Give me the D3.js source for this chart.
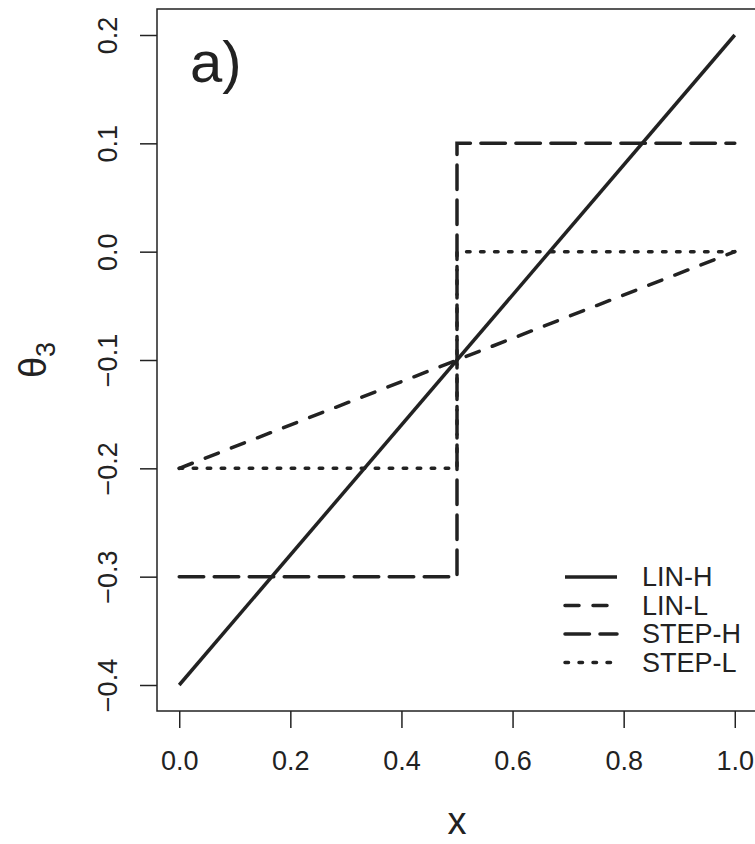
<!DOCTYPE html>
<html>
<head>
<meta charset="utf-8">
<script src="https://cdn.jsdelivr.net/npm/d3@7"></script>
<style>
  body { margin: 0; background: #fff; }
  text { font-family: "Liberation Sans", Arial, sans-serif; fill: #222; }
</style>
</head>
<body>
<svg id="chart" width="755" height="844"></svg>
<script>
// data
var linX = [0, 1];
var linH = [-0.4, 0.2];
var linL = [-0.2, 0];
var stepX = [0, 0.5, 0.5, 1];
var stepH = [-0.3, -0.3, 0.1, 0.1];
var stepL = [-0.2, -0.2, 0, 0];
var xTicks = [0, 0.2, 0.4, 0.6, 0.8, 1.0];
var yTicks = [-0.4, -0.3, -0.2, -0.1, 0.0, 0.1, 0.2];
var seriesNames = ["LIN-H", "LIN-L", "STEP-H", "STEP-L"];

var svg = d3.select("#chart"),
    margin = { top: 9, right: -2, bottom: 133, left: 157 },
    width = +svg.attr("width") - margin.left - margin.right,
    height = +svg.attr("height") - margin.top - margin.bottom,
    g = svg.append("g").attr("transform", "translate(" + margin.left + "," + margin.top + ")");

var lw = 3.5;
var dashes = ["none", "14,14", "24.5,10.5", "3.5,10.5"];
var ink = "#222";

// R style: 4% padding on each side
var x = d3.scaleLinear()
    .domain([-0.04, 1.04])
    .range([0, width]);

var y = d3.scaleLinear()
    .domain([-0.424, 0.224])
    .range([height, 0]);

var xAxis = g.append("g")
    .attr("transform", "translate(0," + height + ")")
    .call(d3.axisBottom(x).tickValues(xTicks).tickSize(17).tickPadding(23).tickFormat(d3.format(".1f")));
xAxis.select(".domain").remove();
xAxis.selectAll("line").attr("stroke", ink).attr("stroke-width", 1.5);
xAxis.selectAll("text").attr("font-size", 27).attr("fill", ink);

var yAxis = g.append("g")
    .call(d3.axisLeft(y).tickValues(yTicks).tickSize(17).tickFormat(d3.format(".1f")));
yAxis.select(".domain").remove();
yAxis.selectAll("line").attr("stroke", ink).attr("stroke-width", 1.5);
yAxis.selectAll("text")
    .attr("font-size", 27)
    .attr("fill", ink)
    .attr("text-anchor", "middle")
    .attr("x", 0)
    .attr("y", 0)
    .attr("dy", 0)
    .attr("transform", "translate(-40,0) rotate(-90)");

// box
g.append("rect")
    .attr("x", 0)
    .attr("y", 0)
    .attr("width", width)
    .attr("height", height)
    .attr("fill", "none")
    .attr("stroke", ink)
    .attr("stroke-width", 1.5);

var line = d3.line()
    .x(function (d) { return x(d[0]); })
    .y(function (d) { return y(d[1]); });

var series = [
    d3.zip(linX, linH),
    d3.zip(linX, linL),
    d3.zip(stepX, stepH),
    d3.zip(stepX, stepL)
];

series.forEach(function (s, i) {
    g.append("path")
        .datum(s)
        .attr("fill", "none")
        .attr("stroke", ink)
        .attr("stroke-width", lw)
        .attr("stroke-linecap", i === 0 ? "butt" : "round")
        .attr("stroke-dasharray", dashes[i])
        .attr("d", line);
});

// panel label
g.append("text")
    .attr("x", 33)
    .attr("y", 73)
    .attr("font-size", 58)
    .attr("fill", ink)
    .text("a)");

// legend
var legend = g.append("g")
    .attr("transform", "translate(406,568)");

seriesNames.forEach(function (name, i) {
    var row = legend.append("g").attr("transform", "translate(0," + (i * 28.5) + ")");
    row.append("line")
        .attr("x1", 2)
        .attr("x2", 54)
        .attr("stroke", ink)
        .attr("stroke-width", lw)
        .attr("stroke-linecap", i === 0 ? "butt" : "round")
        .attr("stroke-dasharray", dashes[i]);
    row.append("text")
        .attr("x", 79)
        .attr("dy", "0.35em")
        .attr("font-size", 27)
        .attr("fill", ink)
        .text(name);
});

// axis titles
svg.append("text")
    .attr("x", margin.left + x(0.5))
    .attr("y", 834)
    .attr("text-anchor", "middle")
    .attr("font-size", 38)
    .attr("fill", ink)
    .text("x");

var yt = svg.append("text")
    .attr("transform", "translate(46," + (margin.top + y(-0.1)) + ") rotate(-90)")
    .attr("text-anchor", "middle")
    .attr("font-size", 38)
    .attr("fill", ink);
yt.append("tspan").text("θ");
yt.append("tspan").attr("font-size", 27).attr("dy", 9).text("3");
</script>
</body>
</html>
